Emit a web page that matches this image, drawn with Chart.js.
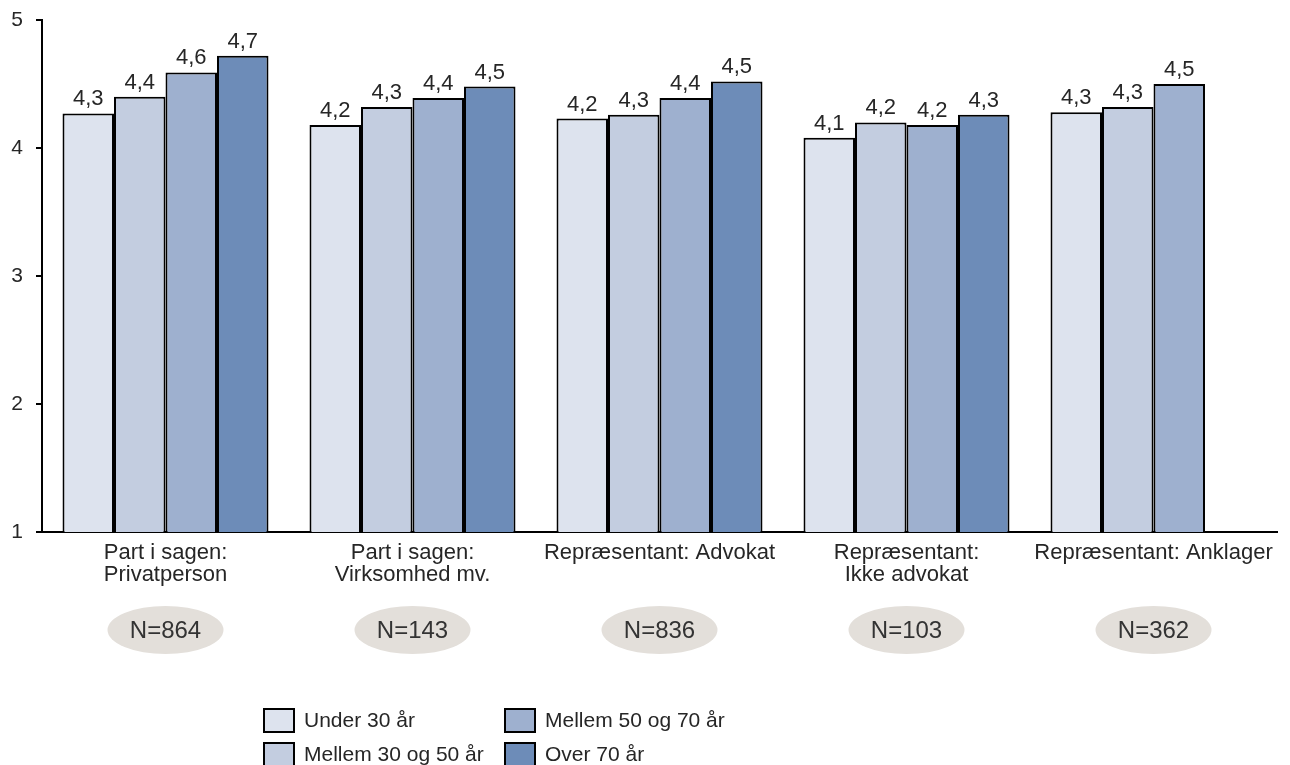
<!DOCTYPE html>
<html lang="da">
<head>
<meta charset="utf-8">
<title>Tilfredshed fordelt på alder</title>
<script src="https://cdn.jsdelivr.net/npm/chart.js@4.4.1/dist/chart.umd.min.js"></script>
<style>
    html, body { margin: 0; padding: 0; background: #fff; }
    #wrap { width: 1290px; height: 765px; }
</style>
</head>
<body>
<div id="wrap"><canvas id="ageChart" width="1290" height="765"></canvas></div>
<script>
// =======================
// Data
// =======================
const categories = [
    ["Part i sagen:", "Privatperson"],
    ["Part i sagen:", "Virksomhed mv."],
    "Repræsentant: Advokat",
    ["Repræsentant:", "Ikke advokat"],
    "Repræsentant: Anklager"
];
const sampleSizes = [864, 143, 836, 103, 362];

const seriesNames = ["Under 30 år", "Mellem 30 og 50 år", "Mellem 50 og 70 år", "Over 70 år"];
const under30 = [4.27, 4.18, 4.23, 4.08, 4.28];
const from30to50 = [4.40, 4.32, 4.26, 4.20, 4.32];
const from50to70 = [4.59, 4.39, 4.39, 4.18, 4.50];
const over70 = [4.72, 4.48, 4.52, 4.26, null];

const yTicks = [1, 2, 3, 4, 5];

const colors = ["#dde3ee", "#c3cde0", "#9eb0cf", "#6d8cb8"];
const FONT = '"Liberation Sans", Arial, sans-serif';
const TEXT = "#262626";

// =======================
// Plugins
// =======================

// value labels above each bar, "4,3" style
const valueLabels = {
    id: "valueLabels",
    afterDatasetsDraw(chart) {
        const ctx = chart.ctx;
        ctx.save();
        ctx.font = "22px " + FONT;
        ctx.fillStyle = TEXT;
        ctx.textAlign = "center";
        ctx.textBaseline = "alphabetic";
        chart.data.datasets.forEach((ds, d) => {
            const meta = chart.getDatasetMeta(d);
            meta.data.forEach((bar, i) => {
                const v = ds.data[i];
                if (v === null || v === undefined) return;
                ctx.fillText(v.toFixed(1).replace(".", ","), bar.x, bar.y - 8);
            });
        });
        ctx.restore();
    }
};

// N= bubbles under the category labels + the legend block
const extras = {
    id: "extras",
    afterDraw(chart) {
        const ctx = chart.ctx;
        const x = chart.scales.x;
        ctx.save();

        sampleSizes.forEach((n, i) => {
            const cx = x.getPixelForValue(i);
            ctx.beginPath();
            ctx.ellipse(cx, 630, 58, 24, 0, 0, Math.PI * 2);
            ctx.fillStyle = "#e3dfda";
            ctx.fill();
            ctx.font = "24px " + FONT;
            ctx.fillStyle = "#333";
            ctx.textAlign = "center";
            ctx.textBaseline = "middle";
            ctx.fillText("N=" + n, cx, 631);
        });

        // legend, two columns
        const spots = [[264, 709], [264, 743], [505, 709], [505, 743]];
        ctx.font = "21px " + FONT;
        ctx.textAlign = "left";
        ctx.textBaseline = "middle";
        seriesNames.forEach((name, i) => {
            const [bx, by] = spots[i];
            ctx.fillStyle = colors[i];
            ctx.fillRect(bx, by, 30, 23);
            ctx.lineWidth = 2;
            ctx.strokeStyle = "#000";
            ctx.strokeRect(bx, by, 30, 23);
            ctx.fillStyle = TEXT;
            ctx.fillText(name, bx + 40, by + 12);
        });

        ctx.restore();
    }
};

// =======================
// Chart
// =======================
const seriesData = [under30, from30to50, from50to70, over70];

new Chart(document.getElementById("ageChart"), {
    type: "bar",
    data: {
        labels: categories,
        datasets: seriesNames.map((name, i) => ({
            label: name,
            data: seriesData[i],
            backgroundColor: colors[i],
            borderColor: "#000",
            borderWidth: 2,
            borderSkipped: false
        }))
    },
    options: {
        responsive: false,
        animation: false,
        layout: { padding: { top: 20, right: 13, left: 0, bottom: 0 } },
        datasets: {
            bar: { categoryPercentage: 0.834, barPercentage: 1 }
        },
        plugins: {
            legend: { display: false },
            tooltip: { enabled: false }
        },
        scales: {
            x: {
                afterFit(scale) { scale.height = 233; },
                grid: { display: true, drawOnChartArea: false, drawTicks: false },
                border: { color: "#000", width: 2 },
                ticks: {
                    color: TEXT,
                    font: { family: FONT, size: 22, lineHeight: 1.0 },
                    padding: 10,
                    maxRotation: 0,
                    autoSkip: false
                }
            },
            y: {
                min: 1,
                max: 5,
                // fixed axis width, and no extra label padding on top
                afterFit(scale) {
                    scale.width = 42;
                    scale.paddingTop = 0;
                    scale.paddingBottom = 0;
                },
                afterBuildTicks(scale) { scale.ticks = yTicks.map(v => ({ value: v })); },
                grid: { display: true, drawOnChartArea: false, drawTicks: true, tickLength: 6, color: "#000", lineWidth: 2 },
                border: { color: "#000", width: 2 },
                ticks: {
                    color: TEXT,
                    font: { family: FONT, size: 21 },
                    padding: 13
                }
            }
        }
    },
    plugins: [valueLabels, extras]
});
</script>
</body>
</html>
